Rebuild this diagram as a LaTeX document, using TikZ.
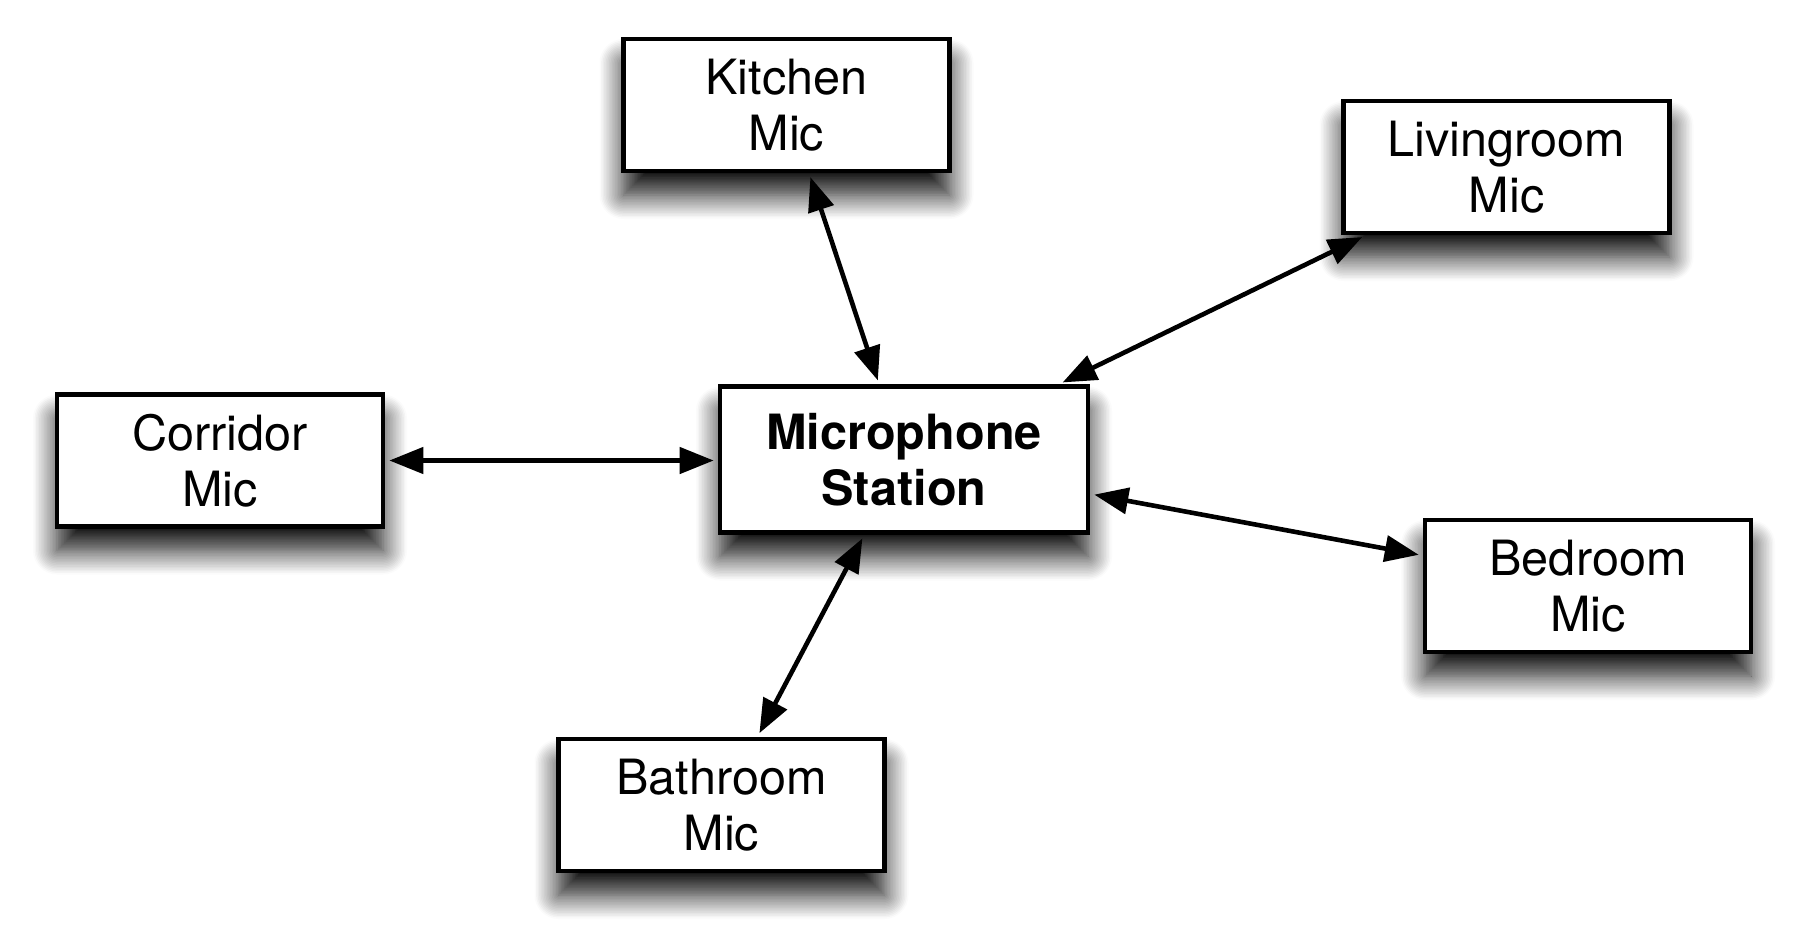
\documentclass[tikz,border=0pt]{standalone}
\usepackage{fontspec}
\setmainfont{TeX Gyre Heros}
\usetikzlibrary{arrows.meta,shadows.blur}
\begin{document}
\begin{tikzpicture}[x=0.5pt,y=-0.5pt,
  mic/.style={draw=black, line width=2.3pt, fill=white,
    minimum width=163pt, minimum height=66pt, inner sep=0pt,
    align=center, font=\fontsize{24.3}{28}\selectfont,
    blur shadow={shadow xshift=0pt, shadow yshift=-12pt,
      shadow blur radius=12pt, shadow blur steps=16, shadow opacity=95}},
  hub/.style={mic, minimum width=184pt, minimum height=73pt,
    font=\fontsize{24.3}{28}\selectfont\bfseries},
  link/.style={{Triangle[length=17pt,width=13pt]}-{Triangle[length=17pt,width=13pt]},
    line width=2.3pt, shorten <=2pt, shorten >=2pt}]
\useasboundingbox (0,0) rectangle (1808,943);
\node[hub] (station) at (904,459.5) {Microphone\\Station};
\node[mic] (kitchen) at (786.5,105) {Kitchen\\Mic};
\node[mic] (living) at (1506.5,167) {Livingroom\\Mic};
\node[mic] (corridor) at (220,460.5) {Corridor\\Mic};
\node[mic] (bedroom) at (1588,586) {Bedroom\\Mic};
\node[mic] (bathroom) at (721.5,805) {Bathroom\\Mic};
\draw[link] (kitchen) -- (station);
\draw[link] (station) -- (living);
\draw[link] (corridor.east) -- (station.west |- corridor.east);
\draw[link] (station) -- (bedroom);
\draw[link] (station) -- (bathroom);
\end{tikzpicture}
\end{document}
